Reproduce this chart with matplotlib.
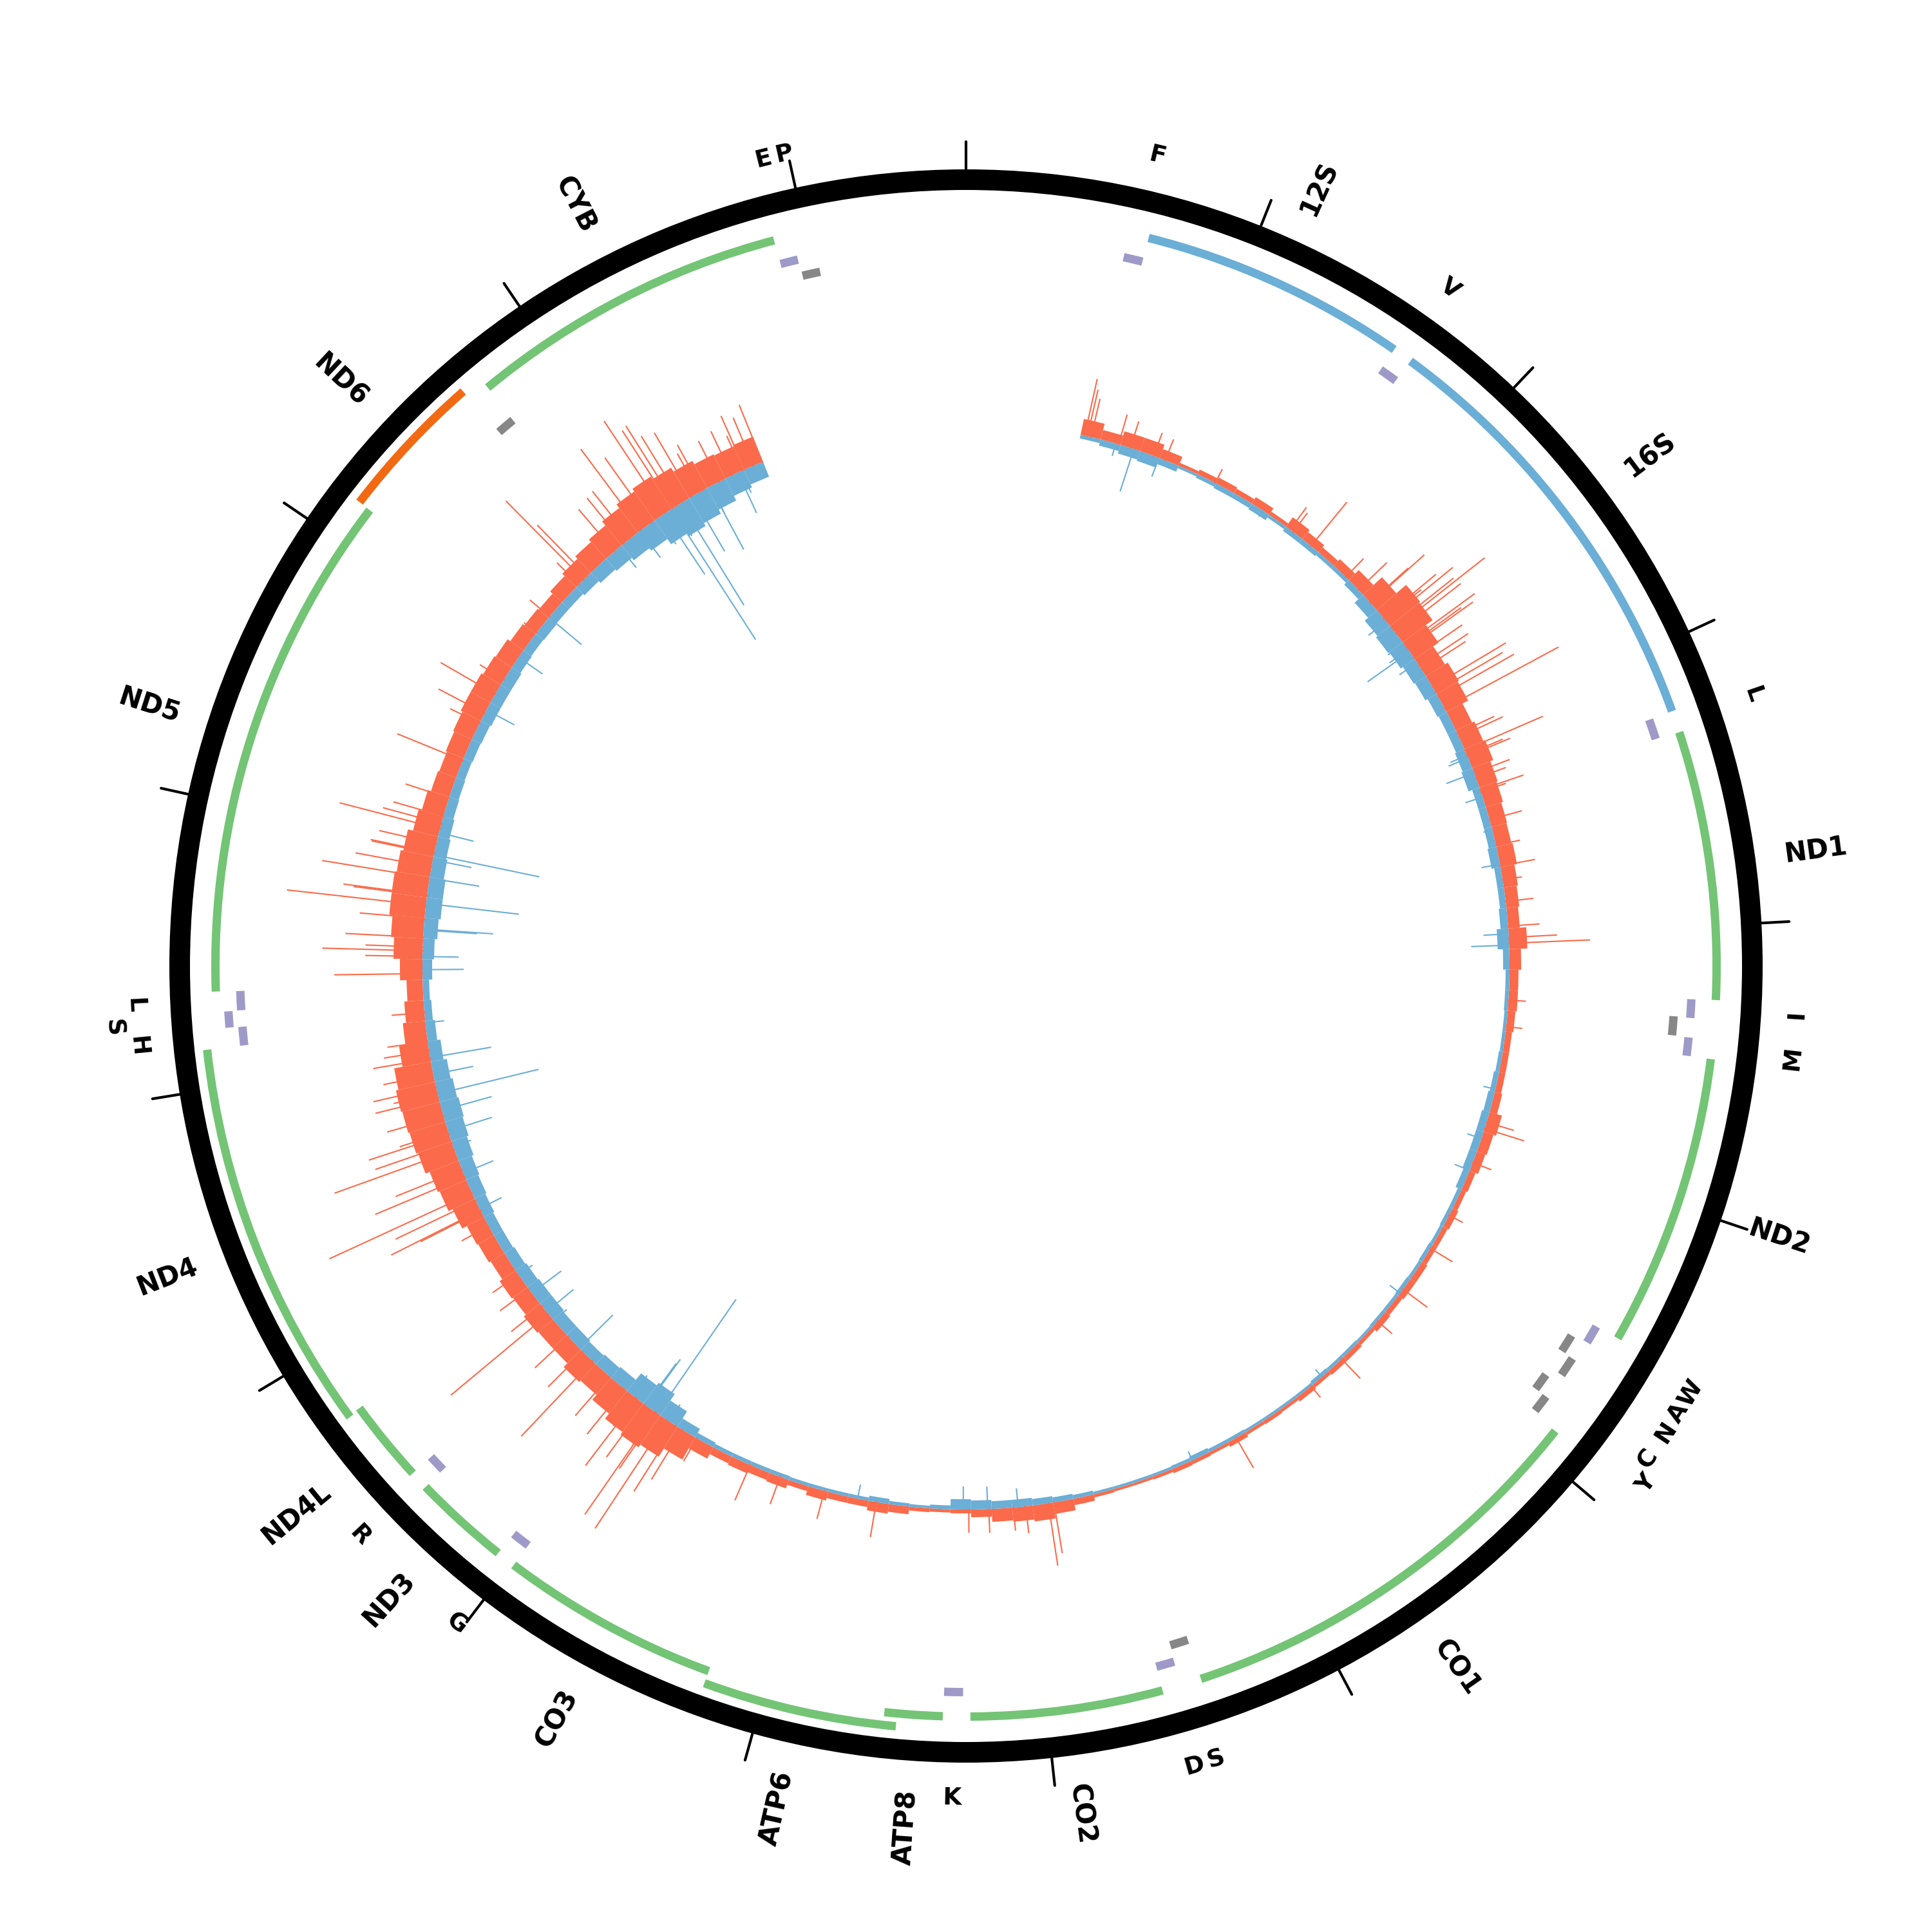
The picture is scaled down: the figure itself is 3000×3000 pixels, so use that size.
import numpy as np
import matplotlib
matplotlib.use("Agg")
import matplotlib.pyplot as plt

GENOME = 16569

# ---------------- genes ----------------
gene_names = ["12S", "16S", "ND1", "ND2", "CO1", "CO2", "ATP8", "ATP6", "CO3",
              "ND3", "ND4L", "ND4", "ND5", "ND6", "CYB"]
gene_start = [648, 1671, 3307, 4470, 5904, 7586, 8366, 8527, 9207,
              10059, 10470, 10760, 12337, 14149, 14747]
gene_end = [1601, 3229, 4262, 5511, 7445, 8269, 8572, 9207, 9990,
            10404, 10766, 12137, 14148, 14673, 15887]
gene_kind = ["rRNA", "rRNA", "cds", "cds", "cds", "cds", "cds", "cds", "cds",
             "cds", "cds", "cds", "cds", "cds_minus", "cds"]
gene_level = [0, 0, 0, 0, 0, 0, 0, 1, 0, 0, 0, 1, 0, 1, 0]

# ---------------- tRNAs ----------------
trna_start = [577, 1602, 3230, 4263, 4329, 4402, 5512, 5587, 5657, 5761, 5826,
              7446, 7518, 8295, 9991, 10405, 12138, 12207, 12266, 14674, 15888, 15956]
trna_end = [647, 1670, 3304, 4331, 4400, 4469, 5579, 5655, 5729, 5826, 5891,
            7514, 7585, 8364, 10058, 10469, 12206, 12265, 12336, 14742, 15953, 16023]
trna_strand = ["+", "+", "+", "+", "-", "+", "+", "-", "-", "-", "-", "-", "+",
               "+", "+", "+", "+", "+", "+", "-", "+", "-"]
trna_level = [0, 0, 0, 0, 0, 0, 0, 0, 1, 0, 1, 0, 0,
              0, 0, 0, 0, 1, 0, 0, 0, 0]
trna_label_text = ["F", "V", "L", "I", "M", "W", "A", "N", "C", "Y", "S", "D",
                   "K", "G", "R", "H", "S", "L", "E", "P"]
trna_label_pos = [612, 1636, 3267, 4297, 4435, 5545, 5621, 5693, 5793, 5858,
                  7480, 7551, 8329, 10024, 10437, 12172, 12236, 12301, 15920, 15989]
trna_label_push = [0, 0, 0, 0, 0, 0.4, 0.4, 0.4, 0.4, 1.0, 0, 0,
                   0, 0, 0, 0, 1, 0, 0, 0]

# ---------------- coverage (100 bp bins starting at 560) ----------------
cov_start = 560
cov_step = 100
red_body = [25, 15, 22, 22, 15, 5, 8, 10, 8, 12, 6, 18, 14, 10, 14, 22, 40, 60, 58, 45,
            35, 40, 38, 28, 32, 35, 30, 28, 25, 24, 26, 22, 20, 18, 28, 18, 14, 14, 12, 10,
            10, 10, 12, 20, 16, 14, 10, 8, 10, 8, 8, 10, 10, 8, 10, 6, 8, 8, 6, 8,
            5, 6, 5, 8, 5, 6, 7, 5, 4, 4, 5, 10, 18, 25, 22, 20, 12, 6, 5, 6,
            12, 15, 10, 10, 14, 8, 14, 12, 14, 12, 20, 40, 55, 60, 55, 45, 35, 38, 30, 30,
            32, 28, 30, 25, 28, 30, 38, 45, 48, 55, 58, 60, 62, 58, 45, 35, 30, 25, 35, 45,
            50, 55, 55, 52, 48, 40, 35, 30, 28, 30, 32, 35, 35, 32, 30, 25, 22, 20, 25, 30,
            35, 40, 48, 55, 60, 55, 48, 42, 40, 42]
blue_body = [6, 10, 14, 16, 10, 4, 6, 8, 8, 10, 5, 8, 8, 6, 6, 10, 18, 25, 28, 26,
             22, 20, 16, 14, 14, 16, 18, 12, 12, 12, 14, 10, 10, 12, 18, 10, 6, 6, 5, 5,
             6, 8, 10, 12, 12, 12, 10, 6, 6, 5, 6, 5, 6, 5, 5, 4, 5, 5, 6, 4,
             4, 4, 4, 5, 5, 7, 5, 4, 4, 4, 4, 6, 8, 10, 12, 12, 14, 16, 6, 4,
             5, 8, 5, 5, 5, 5, 6, 6, 6, 6, 8, 15, 28, 40, 35, 22, 20, 18, 20, 20,
             22, 22, 20, 18, 16, 16, 18, 20, 22, 25, 28, 30, 28, 25, 20, 15, 12, 10, 15, 18,
             22, 25, 25, 22, 20, 18, 16, 15, 14, 15, 16, 18, 18, 18, 16, 15, 16, 15, 15, 18,
             22, 25, 30, 35, 45, 50, 45, 38, 30, 25]

red_spike_pos = [580, 594, 612, 750, 810, 930, 990, 1256, 1684, 1703, 1813, 2039, 2127,
                 2210, 2214, 2310, 2320, 2333, 2370, 2384, 2407, 2476, 2490, 2500, 2554,
                 2600, 2623, 2720, 2748, 2778, 2840, 2978, 2996, 3065, 3088, 3097, 3185,
                 3213, 3272, 3282, 3424, 3553, 3654, 3723, 3829, 3949, 4004, 4032, 4308,
                 4437, 4911, 4943, 5118, 5399, 5583, 5822, 6020, 6273, 6471, 6913, 7856,
                 7884, 7994, 8054, 8174, 8271, 8722, 8979, 9205, 9361, 9651, 9734, 9771,
                 9822, 9877, 9886, 9887, 9951, 10001, 10010, 10079, 10171, 10282, 10346,
                 10448, 10595, 10641, 10747, 10834, 11111, 11193, 11198, 11249, 11290,
                 11377, 11414, 11552, 11516, 11598, 11612, 11690, 11782, 11805, 11833,
                 11897, 11975, 12013, 12059, 12201, 12390, 12473, 12500, 12519, 12565,
                 12657, 12721, 12767, 12772, 12855, 12910, 12974, 12979, 13025, 13099,
                 13126, 13163, 13255, 13449, 13647, 13702, 13808, 13890, 14168, 14268,
                 14479, 14512, 14535, 14714, 14774, 14811, 14880, 14940, 15023, 15064,
                 15087, 15119, 15174, 15216, 15345, 15235, 15326, 15395, 15451, 15464,
                 15510, 15556]
red_spike_h = [89, 73, 60, 47, 42, 37, 34, 23, 42, 36, 87, 39, 60,
               79, 111, 105, 72, 132, 122, 180, 126, 134, 104, 124, 90,
               90, 80, 132, 120, 134, 200, 62, 74, 131, 60, 71, 58,
               48, 70, 40, 51, 37, 54, 29, 42, 48, 74, 125, 26,
               24, 43, 63, 30, 23, 39, 46, 29, 41, 22, 53, 79,
               97, 41, 35, 36, 35, 54, 44, 44, 59, 40, 90, 120,
               201, 103, 192, 62, 100, 130, 55, 90, 80, 160, 76,
               70, 196, 61, 55, 48, 47, 104, 154, 137, 243,
               150, 110, 125, 197, 130, 78, 90, 100, 69, 99,
               78, 89, 70, 62, 50, 136, 88, 155, 88, 120,
               100, 216, 114, 130, 168, 119, 98, 100, 90, 160,
               93, 80, 70, 109, 50, 80, 97, 43, 24, 39,
               47, 171, 110, 85, 90, 93, 156, 123, 171, 143,
               146, 120, 114, 68, 40, 80, 70, 75, 58, 90,
               80, 95]
blue_spike_pos = [736, 828, 957, 1523, 2329, 2467, 2504, 2518, 2582, 3093, 3107, 3185,
                  3309, 3475, 3645, 3986, 4041, 4745, 4994, 5159, 5845, 6402, 7152,
                  8031, 8179, 8298, 8814, 9808, 9877, 9941, 9946, 10029, 10371, 10553,
                  10609, 10724, 10834, 11207, 11396, 11534, 11612, 11718, 11801, 11897,
                  11980, 12151, 12409, 12473, 12601, 12606, 12731, 12855, 12945, 12970,
                  13081, 13720, 14019, 14263, 14746, 14861, 14875, 14981, 15018, 15059,
                  15073, 15114, 15179, 15276, 15277, 15427, 15445]
blue_spike_h = [19, 68, 30, 10, 34, 29, 34, 79, 32, 27, 32, 45,
                27, 13, 28, 38, 58, 18, 22, 24, 19, 14, 14,
                28, 34, 35, 21, 30, 214, 88, 79, 37, 72, 25,
                53, 56, 25, 37, 49, 28, 70, 79, 160, 62,
                95, 28, 63, 55, 82, 107, 144, 77, 60, 166,
                54, 48, 44, 65, 40, 31, 51, 48, 112, 240,
                51, 185, 98, 110, 44, 68, 36]

# ---------------- styles ----------------
RED = "#fb6a4a"
BLUE = "#6baed6"
GREEN = "#74c476"
PURPLE = "#9e9ac8"
GRAY = "#878787"
ORANGE = "#f16913"

R_BASE = 844
R_GENE = 1159
GENE_W = 13
LEVEL_STEP = 20
R_TRNA = {"+": 1121, "-": 1095}
TRNA_W = 13
RING_IN, RING_OUT = 1205, 1237
TICK_OUT = 1280
R_GLABEL = 1282
R_TLABEL = 1292

plt.rcParams["font.family"] = ["DejaVu Sans"]


def ang(bp):
    return np.asarray(bp, dtype=float) / GENOME * 2 * np.pi


fig = plt.figure(figsize=(10, 10), dpi=300)
ax = fig.add_axes([0, 0, 1, 1], projection="polar")
ax.set_theta_zero_location("N")
ax.set_theta_direction(-1)
ax.set_ylim(0, 1500)
ax.axis("off")

# ring
ax.bar(0, RING_OUT - RING_IN, width=2 * np.pi, bottom=RING_IN, color="black",
       edgecolor="none", align="center")
for t in range(0, GENOME, 1000):
    th = ang(t)
    ax.plot([th, th], [RING_OUT - 2, TICK_OUT], color="black", lw=1.0,
            solid_capstyle="round")

# genes
for name, s, e, kind, lev in zip(gene_names, gene_start, gene_end, gene_kind, gene_level):
    col = {"rRNA": BLUE, "cds": GREEN, "cds_minus": ORANGE}[kind]
    th0, th1 = ang(s), ang(e)
    ax.bar((th0 + th1) / 2, GENE_W, width=th1 - th0, bottom=R_GENE + lev * LEVEL_STEP,
           color=col, edgecolor="none", align="center")
    mid = (s + e) / 2
    a = mid / GENOME * 360
    if a < 180:
        rot, ha = 90 - a, "left"
    else:
        rot, ha = 270 - a, "right"
    ax.text(ang(mid), R_GLABEL, name, rotation=rot, rotation_mode="anchor",
            ha=ha, va="center", fontsize=10, fontweight="bold")

# tRNAs
for s, e, st, lev in zip(trna_start, trna_end, trna_strand, trna_level):
    th0, th1 = ang(s), ang(e)
    col = PURPLE if st == "+" else GRAY
    ax.bar((th0 + th1) / 2, TRNA_W, width=th1 - th0, bottom=R_TRNA[st] + lev * LEVEL_STEP,
           color=col, edgecolor="none", align="center")

for txt, p, push in zip(trna_label_text, trna_label_pos, trna_label_push):
    a = p / GENOME * 360
    rot = 180 - a if 90 < a < 270 else -a
    ax.text(ang(p), R_TLABEL + push * 36, txt, rotation=rot, rotation_mode="anchor",
            ha="center", va="center", fontsize=9, fontweight="bold")

# coverage: per-bin bars plus thin spikes for isolated tall positions
n = len(red_body)
centers = ang(cov_start + cov_step * (np.arange(n) + 0.5))
wid = ang(cov_step)
rb = np.asarray(red_body, dtype=float)
bb = np.asarray(blue_body, dtype=float)
ax.bar(centers, rb, width=wid, bottom=R_BASE, color=RED, edgecolor="none",
       align="center")
ax.bar(centers, bb, width=wid, bottom=R_BASE - bb, color=BLUE, edgecolor="none",
       align="center")
for p, h in zip(red_spike_pos, red_spike_h):
    th = ang(p)
    ax.plot([th, th], [R_BASE, R_BASE + h], color=RED, lw=0.5)
for p, h in zip(blue_spike_pos, blue_spike_h):
    th = ang(p)
    ax.plot([th, th], [R_BASE, R_BASE - h], color=BLUE, lw=0.5)

fig.savefig("out.png", dpi=300, facecolor="white")
